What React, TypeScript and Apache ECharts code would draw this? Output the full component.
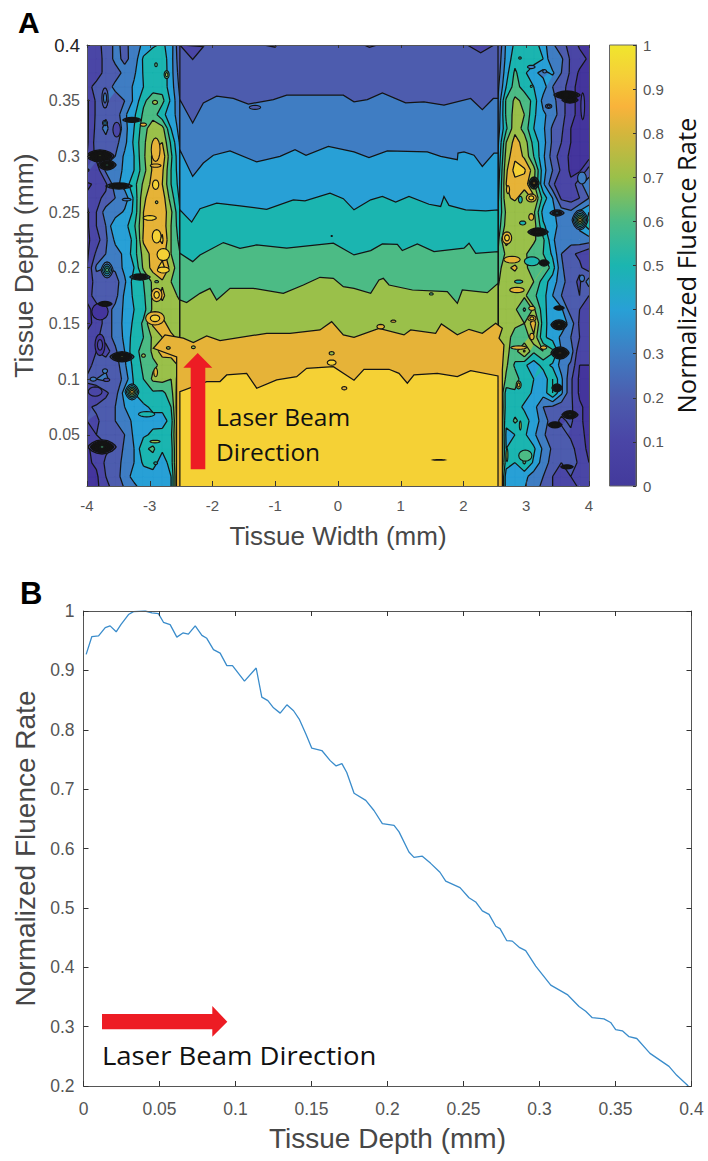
import React, { useEffect, useRef } from "react";
import * as echarts from "echarts";

// Panel B: fluence rate against depth
const lineDepth = [0.00175,0.0055,0.0099,0.0143,0.0175,0.0215,0.0246,0.0296,0.0329,0.0406,0.045,0.0493,0.0526,0.057,0.0614,0.0654,0.069,0.0735,0.0779,0.0811,0.0855,0.0899,0.0943,0.098,0.1059,0.1136,0.1173,0.1213,0.125,0.1294,0.1338,0.1382,0.1419,0.1463,0.1502,0.1568,0.1623,0.1662,0.17,0.1732,0.178,0.1857,0.1911,0.1966,0.2043,0.2076,0.2141,0.2174,0.2229,0.2284,0.2345,0.2383,0.2477,0.2536,0.258,0.2624,0.2668,0.2712,0.274,0.2784,0.2821,0.287,0.2909,0.2975,0.3074,0.3183,0.326,0.3304,0.3347,0.3424,0.3468,0.3501,0.3545,0.3589,0.364,0.3727,0.3852,0.3903,0.3979];
const lineFluence = [0.927,0.957,0.958,0.972,0.975,0.965,0.977,0.994,0.999,1.0,0.997,0.9955,0.981,0.977,0.956,0.963,0.961,0.975,0.959,0.954,0.935,0.929,0.908,0.908,0.882,0.904,0.855,0.849,0.837,0.828,0.842,0.832,0.818,0.793,0.769,0.765,0.748,0.739,0.743,0.728,0.693,0.681,0.664,0.642,0.639,0.628,0.594,0.585,0.587,0.575,0.56,0.545,0.534,0.517,0.51,0.495,0.489,0.469,0.465,0.445,0.444,0.433,0.428,0.402,0.37,0.354,0.334,0.326,0.315,0.313,0.307,0.295,0.293,0.283,0.28,0.255,0.233,0.218,0.2];

// Panel A: contour band colours, one per 0.1 step of fluence
const bandColors = ["#44359d","#4a46a6","#4d5cae","#3f7dc3","#28a0d6","#1bb5b0","#4cbb85","#9ac04a","#e6b338","#f5d135"];
const colorbarStops = [[0,"#433a9c"],[0.1,"#4a45a6"],[0.2,"#4c5cae"],[0.3,"#3f7dc3"],[0.4,"#28a0d6"],[0.5,"#1bb5b0"],[0.6,"#4cbb85"],[0.7,"#9ac04a"],[0.8,"#d4b63c"],[0.86,"#f9b33b"],[0.93,"#f5cf38"],[1,"#f0e62d"]];
const contourLevels = [0.1,0.2,0.3,0.4,0.5,0.6,0.7,0.8,0.9];

// Sampled field at both edges of the beam
const depthRows = [0.4,0.3875,0.375,0.3625,0.35,0.3375,0.325,0.3125,0.3,0.2875,0.275,0.2625,0.25,0.2375,0.225,0.2125,0.2,0.1875,0.175,0.1625,0.15,0.1375,0.125,0.1125,0.1,0.0875,0.075,0.0625,0.05,0.0375,0.025,0.0125,0];
const leftColumns = [-4,-3.85,-3.7,-3.55,-3.4,-3.25,-3.1,-2.95,-2.8,-2.66,-2.52];
const rightColumns = [2.55,2.68,2.82,2.97,3.12,3.27,3.42,3.56,3.71,3.85,4];
const leftField = [
[.15,.18,.22,.33,.27,.35,.42,.48,.52,.45,.2],
[.17,.17,.22,.33,.28,.33,.52,.58,.56,.44,.225],
[.12,.17,.22,.25,.33,.38,.51,.58,.57,.44,.25],
[.18,.22,.24,.33,.32,.42,.5,.56,.56,.45,.275],
[.08,.22,.32,.24,.3,.42,.58,.65,.63,.48,.302],
[.08,.22,.28,.23,.38,.48,.62,.66,.52,.46,.33],
[.08,.23,.34,.18,.36,.5,.66,.76,.74,.5,.358],
[.08,.25,.25,.26,.37,.52,.68,.78,.8,.58,.386],
[.1,.23,.27,.3,.42,.5,.68,.82,.87,.62,.411],
[.22,.14,.32,.35,.42,.5,.66,.82,.82,.6,.434],
[.08,.12,.18,.36,.45,.56,.72,.84,.8,.6,.457],
[.12,.18,.22,.3,.33,.52,.78,.86,.86,.65,.48],
[.08,.2,.35,.33,.42,.52,.8,.85,.87,.72,.505],
[.08,.2,.3,.5,.46,.58,.8,.86,.87,.7,.537],
[.08,.15,.28,.42,.45,.52,.82,.85,.92,.7,.57],
[.08,.22,.3,.36,.42,.55,.74,.84,.85,.7,.602],
[.1,.32,.3,.32,.43,.5,.72,.84,.95,.75,.63],
[.12,.25,.22,.25,.38,.55,.6,.72,.78,.7,.66],
[.12,.28,.22,.26,.42,.52,.58,.72,.83,.72,.69],
[.08,.13,.25,.33,.42,.5,.56,.72,.75,.72,.717],
[.08,.12,.25,.33,.43,.52,.62,.82,.84,.74,.74],
[.12,.18,.25,.33,.42,.55,.6,.72,.8,.83,.766],
[.12,.2,.14,.28,.4,.58,.62,.72,.86,.87,.79],
[.15,.25,.28,.24,.38,.54,.62,.68,.72,.72,.83],
[.22,.3,.32,.24,.33,.52,.6,.72,.74,.7,.865],
[.15,.08,.18,.25,.45,.5,.56,.58,.57,.66,.904],
[.18,.22,.24,.3,.4,.44,.48,.52,.54,.6,.95],
[.2,.18,.25,.3,.32,.44,.48,.47,.44,.55,.95],
[.15,.2,.24,.24,.3,.42,.48,.52,.55,.58,.95],
[.08,.15,.18,.22,.32,.4,.58,.62,.52,.55,.95],
[.08,.12,.22,.24,.34,.4,.52,.55,.44,.55,.95],
[.08,.08,.2,.24,.36,.43,.44,.45,.44,.5,.95],
[.08,.08,.15,.24,.3,.36,.42,.42,.44,.5,.95],
];
const rightField = [
[.2,.42,.52,.56,.56,.44,.32,.22,.18,.08,.08],
[.23,.43,.56,.58,.56,.5,.3,.32,.18,.15,.08],
[.25,.46,.62,.52,.42,.37,.42,.3,.18,.08,.08],
[.28,.5,.65,.55,.5,.45,.3,.27,.12,.08,.08],
[.304,.62,.72,.68,.56,.36,.33,.25,.12,.08,.08],
[.33,.62,.74,.7,.52,.42,.35,.25,.12,.08,.08],
[.355,.58,.77,.66,.5,.42,.28,.22,.1,.06,.06],
[.38,.7,.84,.76,.56,.44,.28,.2,.1,.06,.06],
[.406,.74,.88,.78,.6,.42,.25,.15,.08,.06,.06],
[.43,.78,.94,.92,.74,.44,.3,.18,.08,.08,.25],
[.455,.8,.86,.84,.72,.42,.22,.12,.12,.28,.35],
[.48,.78,.82,.74,.82,.56,.4,.18,.15,.2,.3],
[.505,.72,.72,.76,.72,.46,.42,.35,.32,.42,.5],
[.54,.74,.74,.72,.75,.52,.42,.38,.3,.42,.55],
[.57,.86,.76,.7,.72,.62,.42,.32,.35,.36,.35],
[.605,.72,.72,.72,.64,.6,.48,.3,.22,.18,.12],
[.65,.78,.82,.74,.62,.7,.55,.32,.22,.22,.14],
[.69,.76,.74,.74,.7,.55,.45,.34,.24,.18,.36],
[.71,.74,.74,.72,.62,.54,.4,.3,.22,.2,.2],
[.725,.72,.72,.58,.72,.55,.4,.42,.24,.2,.12],
[.75,.74,.72,.7,.86,.55,.42,.46,.36,.18,.1],
[.77,.74,.66,.62,.78,.52,.46,.38,.3,.2,.1],
[.785,.72,.66,.82,.62,.7,.62,.4,.36,.12,.1],
[.83,.72,.58,.52,.44,.54,.48,.36,.28,.1,.1],
[.865,.68,.66,.52,.5,.42,.6,.42,.22,.08,.08],
[.92,.55,.58,.55,.48,.44,.6,.42,.22,.08,.08],
[.95,.55,.55,.48,.44,.3,.28,.24,.22,.12,.06],
[.95,.52,.62,.55,.45,.36,.24,.18,.22,.12,.06],
[.95,.48,.5,.52,.42,.32,.22,.24,.18,.12,.08],
[.95,.5,.52,.58,.52,.38,.28,.22,.24,.14,.08],
[.95,.55,.5,.62,.48,.35,.26,.2,.3,.16,.1],
[.95,.44,.42,.43,.35,.3,.2,.17,.2,.18,.12],
[.95,.44,.42,.4,.33,.27,.2,.16,.18,.2,.17],
];

// Contours read across the beam, as [width mm, depth mm]
const contour30 = [[-2.52,.351],[-2.316,.33],[-2.146,.348],[-1.934,.354],[-1.668,.352],[-1.429,.347],[-1.03,.351],[-.818,.355],[.085,.355],[.255,.349],[.467,.351],[.707,.357],[1.078,.348],[1.37,.349],[1.689,.346],[2.114,.352],[2.3,.342],[2.475,.352],[2.55,.352]];
const contour40 = [[-2.52,.306],[-2.316,.282],[-2.146,.294],[-1.987,.301],[-1.721,.305],[-1.296,.295],[-.924,.3],[-.685,.306],[-.51,.301],[-.154,.309],[.255,.304],[.494,.299],[.786,.305],[1.424,.304],[1.636,.3],[1.902,.297],[1.912,.303],[2.008,.304],[2.167,.301],[2.3,.291],[2.486,.303],[2.55,.303]];
const contour50 = [[-2.52,.252],[-2.332,.241],[-2.199,.253],[-1.934,.258],[-1.562,.2555],[-1.137,.2525],[-.712,.261],[-.526,.26],[-.127,.267],[.085,.262],[.255,.252],[.521,.261],[.707,.264],[.919,.259],[1.131,.264],[1.45,.257],[1.636,.255],[1.689,.264],[1.769,.256],[2.035,.252],[2.353,.251],[2.55,.252]];
const contour60 = [[-2.52,.213],[-2.316,.2055],[-2.199,.2115],[-1.827,.2226],[-1.562,.2175],[-1.296,.2205],[-.818,.2175],[-.074,.222],[.255,.2115],[.521,.2154],[.707,.2214],[.946,.221],[1.025,.2154],[1.264,.2214],[1.53,.2145],[2.008,.2175],[2.088,.222],[2.194,.213],[2.55,.2145]];
const contour70 = [[-2.52,.171],[-2.412,.1687],[-2.199,.177],[-2.04,.1815],[-1.934,.171],[-1.721,.1815],[-1.349,.1815],[-.871,.177],[-.552,.1845],[-.287,.1914],[-.074,.1905],[.085,.183],[.255,.1815],[.521,.177],[.653,.189],[.722,.1905],[.813,.1845],[1.185,.18],[1.742,.1785],[1.902,.168],[1.981,.18],[2.38,.1776],[2.55,.186]];
const contour80 = [[-2.575,0],[-2.571,.12],[-2.943,.1277],[-2.757,.1397],[-2.465,.1367],[-2.305,.1328],[-2.093,.1388],[-1.88,.1346],[-1.137,.1411],[-.765,.1411],[-.287,.1441],[-.101,.1516],[.085,.1397],[.255,.1375],[.653,.1456],[1.052,.1397],[1.158,.1441],[1.556,.1411],[1.647,.1495],[1.902,.1397],[2.088,.1447],[2.3,.1411],[2.513,.1501],[2.619,.1456],[2.566,.1367],[2.645,.1307],[2.619,.1082],[2.62,0]];
const contour90 = [[-2.52,0],[-2.52,.0888],[-2.093,.0978],[-1.88,.0978],[-1.774,.1037],[-1.456,.1052],[-1.296,.0918],[-.977,.0993],[-.659,.1022],[-.5,.1097],[-.074,.1112],[.255,.099],[.414,.1088],[.813,.1088],[.972,.1052],[1.105,.0963],[1.211,.1037],[1.583,.1052],[1.902,.1022],[2.114,.1076],[2.55,.1028],[2.55,0]];
const topNotches = [
  [[-2.52,.4],[-2.316,.387],[-2.146,.3985]],
  [[-1.19,.4],[-1.0,.398],[-.98,.4]],
  [[.415,.4],[.5,.398],[.63,.4]],
  [[2.06,.4],[2.274,.393],[2.486,.4]],
];
const beamBase = [[-2.52,.4],[2.55,.4],[2.55,0],[-2.52,0]];

// Closed local contours: [width, depth, half width, half depth, outer band, inner band]
const localContours = [
  // broad islands at the edges
  [-3.713,.3524,.05,.009,2,3],[-3.527,.324,.06,.0066,1,1],[-3.793,.1307,.08,.0096,0,1],[-3.793,.1606,.13,.0075,0,0],[-3.87,.0888,.11,.0042,1,1],
  [3.9,.345,.03,.012,1,1],[3.888,.2806,.07,.0054,3,3],[3.888,.1905,.04,.003,3,3],
  [-2.906,.306,.07,.0105,8,8],[-2.89,.1756,.085,.006,8,9],[-2.916,.1546,.15,.006,8,9],[-2.784,.198,.095,.0027,9,9],
  [-2.89,.2282,.07,.006,9,9],[-2.784,.2118,.1,.0054,9,9],[-2.906,.2746,.05,.0042,9,9],[-3,.2447,.105,.0021,9,9],
  [-2.906,.2917,.085,.0015,8,8],[-3.102,.3285,.05,.0015,8,8],[-2.916,.3485,.04,.0018,7,7],[-2.731,.3734,.04,.0036,6,7],[-2.9,.3823,.02,.0018,6,6],
  [-2.89,.2588,.02,.0012,7,7],[-3.368,.2612,.07,.0012,3,3],[-3.713,.33,.04,.0024,3,4],[-2.89,.1875,.03,.001,6,6],[-2.906,.1061,.03,.004,8,8],
  [-3.1,.1211,.03,.0015,7,7],[-3.713,.1073,.04,.002,3,3],[-3.687,.0993,.05,.0015,1,1],[-3.9,.1,.05,.0018,3,3],[-3.05,.0685,.13,.0024,5,5],
  [-2.916,.0439,.08,.0012,7,7],[-2.906,.0245,.03,.0012,5,5],
  [3.08,.3803,.06,.0015,3,3],[3.293,.3764,.03,.0015,3,3],[3.357,.345,.05,.002,2,3],[2.9,.3883,.02,.001,6,6],[3.08,.3629,.015,.001,6,6],
  [2.709,.2702,.025,.0036,8,8],[2.906,.2612,.03,.003,5,5],[3.08,.2627,.08,.0036,8,9],[3.08,.2456,.04,.003,8,8],[2.943,.2402,.05,.0018,5,5],
  [2.693,.2268,.075,.0054,8,9],[2.773,.2073,.13,.003,8,8],[3.09,.2058,.12,.004,5,5],[2.852,.18,.115,.0024,8,8],[2.879,.1875,.065,.0015,5,5],
  [3.09,.1636,.05,.0018,8,8],[3.09,.1546,.065,.0027,8,9],[3.09,.1382,.035,.003,8,8],[2.879,.1283,.125,.0015,8,8],[3.277,.1283,.05,.0015,8,8],
  [2.879,.0948,.04,.0036,7,8],[2.905,.0583,.015,.004,7,7],[2.985,.0313,.105,.005,6,6],[2.693,.0319,.015,.006,7,7],
  // tight spikes
  [-3.793,.3004,.223,.0054,1,7],[-3.681,.2923,.143,.0045,2,6],[-3.283,.3327,.143,.0022,3,6],[-3.49,.2734,.207,.0027,3,6],
  [-3.155,.1917,.16,.0027,4,7],[-3.713,.1675,.11,.0022,1,5],[-3.442,.12,.19,.0045,2,7],[-3.283,.0885,.11,.0072,4,8],
  [-3.76,.0391,.223,.0063,1,6],[-3.68,.198,.096,.0072,3,6],
  [3.649,.3551,.207,.0036,1,6],[3.697,.3506,.127,.0027,1,5],[3.124,.2761,.08,.0054,5,8],[3.857,.2429,.127,.009,3,8],
  [3.49,.2492,.11,.0027,2,4],[3.187,.2321,.16,.0036,4,9],[3.283,.2043,.08,.0027,5,8],[3.522,.1639,.08,.0018,3,6],
  [3.522,.1487,.127,.0045,3,7],[3.538,.1235,.143,.0054,3,8],[3.49,.0921,.08,.0036,4,8],[3.697,.0679,.127,.0036,1,5],
  [3.458,.0589,.11,.0027,1,5],[3.649,.0212,.096,.0018,2,5],
  // small islands across the beam
  [-1.323,.344,.09,.0018,2,2],[-2.704,.128,.03,.0012,7,7],[-2.305,.1286,.03,.0012,7,7],[-.101,.1232,.04,.0015,7,7],
  [-.101,.1148,.07,.0024,9,9],[.1,.0918,.04,.0015,8,8],[.68,.1471,.06,.002,8,8],[.882,.152,.04,.001,8,8],
  [1.487,.1765,.03,.001,6,6],[1.61,.0274,.1,.0003,8,8],[-.1,.2285,.01,.0004,6,6],
];

const depthTicks = [0.05,0.1,0.15,0.2,0.25,0.3,0.35,0.4];

const AXIS = "#555555";
const TEXT = "#555555";
const TITLE = "#474747";
const SANS = "Liberation Sans";
const HUMAN = "Open Sans";
const INK = "#141414";

type P = number[];
const fields = [
  { cols: leftColumns, z: leftField },
  { cols: rightColumns, z: rightField },
];

function clip(poly: P[], level: number, keepAbove: boolean): P[] {
  const out: P[] = [];
  for (let i = 0; i < poly.length; i++) {
    const a = poly[i];
    const b = poly[(i + 1) % poly.length];
    const ain = keepAbove ? a[2] >= level : a[2] <= level;
    const bin = keepAbove ? b[2] >= level : b[2] <= level;
    if (ain) out.push(a);
    if (ain !== bin) {
      const t = (level - a[2]) / (b[2] - a[2]);
      out.push([a[0] + t * (b[0] - a[0]), a[1] + t * (b[1] - a[1]), level]);
    }
  }
  return out;
}

function cellsOf(f: { cols: number[]; z: number[][] }, visit: (q: P[]) => void) {
  for (let r = 0; r < depthRows.length - 1; r++) {
    for (let c = 0; c < f.cols.length - 1; c++) {
      visit([
        [f.cols[c], depthRows[r], f.z[r][c]],
        [f.cols[c + 1], depthRows[r], f.z[r][c + 1]],
        [f.cols[c + 1], depthRows[r + 1], f.z[r + 1][c + 1]],
        [f.cols[c], depthRows[r + 1], f.z[r + 1][c]],
      ]);
    }
  }
}

function polyPath(pts: P[], api: any, close = true) {
  let d = "";
  pts.forEach((p, i) => {
    const s = api.coord([p[0], p[1]]);
    d += (i ? "L" : "M") + s[0].toFixed(2) + " " + s[1].toFixed(2);
  });
  return d + (close ? "Z" : "");
}

function renderBand(params: any, api: any) {
  const band = params.dataIndex;
  let d = "";
  for (const f of fields) {
    cellsOf(f, (q) => {
      let poly = q;
      if (band > 0) poly = clip(poly, band / 10, true);
      if (poly.length >= 3 && band < 9) poly = clip(poly, (band + 1) / 10, false);
      if (poly.length >= 3) d += polyPath(poly, api);
    });
  }
  return { type: "path", shape: { pathData: d }, style: { fill: bandColors[band], stroke: bandColors[band], lineWidth: 0.3 } };
}

function renderContourLine(params: any, api: any) {
  const level = contourLevels[params.dataIndex];
  let d = "";
  for (const f of fields) {
    cellsOf(f, (q) => {
      const hits: P[] = [];
      for (let i = 0; i < 4; i++) {
        const a = q[i];
        const b = q[(i + 1) % 4];
        if ((a[2] >= level) !== (b[2] >= level)) {
          const t = (level - a[2]) / (b[2] - a[2]);
          hits.push([a[0] + t * (b[0] - a[0]), a[1] + t * (b[1] - a[1])]);
        }
      }
      for (let i = 0; i + 1 < hits.length; i += 2) d += polyPath([hits[i], hits[i + 1]], api, false);
    });
  }
  return { type: "path", shape: { pathData: d }, style: { fill: "none", stroke: INK, lineWidth: 1.25 } };
}

const beamContours = [
  { band: 2, pts: beamBase },
  ...topNotches.map((pts) => ({ band: 1, pts })),
  { band: 3, pts: [[-2.52, 0], ...contour30, [2.55, 0]] },
  { band: 4, pts: [[-2.52, 0], ...contour40, [2.55, 0]] },
  { band: 5, pts: [[-2.52, 0], ...contour50, [2.55, 0]] },
  { band: 6, pts: [[-2.52, 0], ...contour60, [2.55, 0]] },
  { band: 7, pts: [[-2.52, 0], ...contour70, [2.55, 0]] },
  { band: 8, pts: contour80 },
  { band: 9, pts: contour90 },
];

function renderBeam(params: any, api: any) {
  const c = beamContours[params.dataIndex];
  return { type: "path", shape: { pathData: polyPath(c.pts, api) }, style: { fill: bandColors[c.band], stroke: INK, lineWidth: 1.25 } };
}

function renderLocal(params: any, api: any) {
  const [x, y, rx, ry, from, to] = localContours[params.dataIndex];
  const children: any[] = [];
  const n = to - from + 1;
  const tight = n > 2 && ry < 0.0065;
  for (let b = 0; b < n; b++) {
    const k = 1 - b / n;
    const pts: P[] = [];
    for (let a = 0; a < 16; a++) {
      const th = (a / 16) * Math.PI * 2;
      const s = Math.sin(th);
      const lens = n > 2 ? s * Math.sqrt(Math.abs(s)) : s;
      pts.push(api.coord([x + rx * k * Math.cos(th), y + ry * k * lens]));
    }
    children.push({ type: "polygon", shape: { points: pts }, style: { fill: tight && b >= 1 && b < n - 1 ? INK : bandColors[from + b], stroke: INK, lineWidth: tight ? 1.4 : 1.1 } });
  }
  return { type: "group", children };
}

function renderColorbar(_: any, api: any) {
  const a = api.coord([0, 1]);
  const b = api.coord([1, 0]);
  return {
    type: "rect",
    shape: { x: a[0], y: a[1], width: b[0] - a[0], height: b[1] - a[1] },
    style: {
      stroke: "#666666",
      lineWidth: 1,
      fill: new echarts.graphic.LinearGradient(0, 1, 0, 0, colorbarStops.map(([offset, color]) => ({ offset: offset as number, color: color as string }))),
    },
  };
}

const idx = (n: number) => Array.from({ length: n }, (_, i) => [i, i]);
const customBase = { type: "custom", silent: true, clip: true, xAxisIndex: 0, yAxisIndex: 0 };

export default function App() {
  const ref = useRef<HTMLDivElement>(null);
  useEffect(() => {
    const chart = echarts.init(ref.current!, null, { renderer: "svg" });
    const line = { onZero: false, lineStyle: { color: AXIS, width: 1 } };
    const lblA = { color: TEXT, fontFamily: SANS, fontSize: 15 };
    const lblB = { color: TEXT, fontFamily: SANS, fontSize: 17.5 };
    const tick = { inside: true, length: 5, lineStyle: { color: "#333", width: 1 } };
    chart.setOption({
      animation: false,
      backgroundColor: "#ffffff",
      grid: [
        { left: 87, top: 45, width: 502, height: 441 },
        { left: 609.5, top: 45, width: 26.5, height: 441 },
        { left: 83.5, top: 611, width: 608, height: 475 },
      ],
      xAxis: [
        {
          gridIndex: 0, type: "value", min: -4, max: 4, interval: 1, z: 10,
          axisLine: line, axisTick: tick, splitLine: { show: false },
          axisLabel: { ...lblA, margin: 12 },
          name: "Tissue Width (mm)", nameLocation: "middle", nameGap: 37,
          nameTextStyle: { color: TITLE, fontFamily: SANS, fontSize: 26 },
        },
        { gridIndex: 1, type: "value", min: 0, max: 1, show: false },
        {
          gridIndex: 2, type: "value", min: 0, max: 0.4, interval: 0.05, z: 10,
          axisLine: line, axisTick: tick, splitLine: { show: false },
          axisLabel: { ...lblB, margin: 14 },
          name: "Tissue Depth (mm)", nameLocation: "middle", nameGap: 38,
          nameTextStyle: { color: TITLE, fontFamily: SANS, fontSize: 28 },
        },
        { gridIndex: 2, type: "value", position: "top", min: 0, max: 0.4, interval: 0.05, z: 10, axisLine: line, axisTick: tick, axisLabel: { show: false }, splitLine: { show: false } },
        { gridIndex: 0, type: "value", position: "top", min: -4, max: 4, interval: 1, z: 10, axisLine: line, axisTick: { ...tick, length: 3 }, axisLabel: { show: false }, splitLine: { show: false } },
      ],
      yAxis: [
        {
          gridIndex: 0, type: "value", min: 0.004, max: 0.4, z: 10,
          axisLine: line, splitLine: { show: false },
          axisTick: { ...tick, length: 3, customValues: depthTicks },
          axisLabel: {
            ...lblA, fontSize: 16, margin: 7, customValues: depthTicks,
            formatter: (v: number) => (Math.abs(v - 0.4) < 1e-6 ? "{top|0.4}" : String(v)),
            rich: { top: { fontSize: 18.5, color: "#222222", fontFamily: SANS } },
          },
          name: "Tissue Depth (mm)", nameLocation: "middle", nameGap: 46,
          nameTextStyle: { color: TITLE, fontFamily: SANS, fontSize: 26.5 },
        },
        {
          gridIndex: 1, type: "value", position: "right", min: 0, max: 1, interval: 0.1, z: 10,
          axisLine: line, splitLine: { show: false },
          axisTick: { inside: true, length: 3, lineStyle: { color: "#333", width: 1 } },
          axisLabel: { ...lblA, margin: 7 },
          name: "Normalized Fluence Rate", nameLocation: "middle", nameGap: 37, nameRotate: 90,
          nameTextStyle: { color: "#111111", fontFamily: HUMAN, fontSize: 25.5 },
        },
        {
          gridIndex: 2, type: "value", min: 0.2, max: 1, interval: 0.1, z: 10,
          axisLine: line, axisTick: tick, splitLine: { show: false },
          axisLabel: { ...lblB, margin: 9 },
          name: "Normalized Fluence Rate", nameLocation: "middle", nameGap: 43,
          nameTextStyle: { color: TITLE, fontFamily: SANS, fontSize: 28 },
        },
        { gridIndex: 2, type: "value", position: "right", min: 0.2, max: 1, interval: 0.1, z: 10, axisLine: line, axisTick: tick, axisLabel: { show: false }, splitLine: { show: false } },
        { gridIndex: 0, type: "value", position: "right", min: 0.004, max: 0.4, z: 10, axisLine: line, axisTick: { show: false }, axisLabel: { show: false }, splitLine: { show: false } },
      ],
      series: [
        { ...customBase, name: "bands", data: idx(bandColors.length), renderItem: renderBand },
        { ...customBase, name: "contours", data: idx(contourLevels.length), renderItem: renderContourLine },
        { ...customBase, name: "beam", data: idx(beamContours.length), renderItem: renderBeam },
        { ...customBase, name: "local", data: idx(localContours.length), renderItem: renderLocal },
        { type: "custom", silent: true, xAxisIndex: 1, yAxisIndex: 1, data: [[0, 0]], renderItem: renderColorbar },
        {
          type: "line", xAxisIndex: 2, yAxisIndex: 2, showSymbol: false, smooth: false,
          data: lineDepth.map((d, i) => [d, lineFluence[i]]),
          lineStyle: { color: "#3a8ccb", width: 1.3 },
        },
      ],
      graphic: [
        { type: "text", x: 18, y: 7, z: 100, style: { text: "A", fill: "#000", font: `bold 30px "${SANS}"` } },
        { type: "text", x: 20, y: 578, z: 100, style: { text: "B", fill: "#000", font: `bold 31px "${SANS}"` } },
        { type: "polygon", z: 100, shape: { points: [[197.7, 353], [212.3, 367.7], [205.3, 367.7], [205.3, 469.3], [190.7, 469.3], [190.7, 367.7], [183.3, 367.7]] }, style: { fill: "#ed1c24" } },
        { type: "text", x: 216, y: 404, z: 100, style: { text: "Laser Beam", fill: "#111", font: `24.5px "${HUMAN}"` } },
        { type: "text", x: 216, y: 439, z: 100, style: { text: "Direction", fill: "#111", font: `24.5px "${HUMAN}"` } },
        { type: "polygon", z: 100, shape: { points: [[102, 1014], [212.3, 1014], [212.3, 1006], [227.3, 1021.7], [212.3, 1036.7], [212.3, 1029.3], [102, 1029.3]] }, style: { fill: "#ed1c24" } },
        { type: "text", x: 102, y: 1043, z: 100, scaleX: 1.1, style: { text: "Laser Beam Direction", fill: "#111", font: `25px "${HUMAN}"` } },
      ],
    });
    return () => chart.dispose();
  }, []);
  return <div ref={ref} style={{ position: "absolute", left: 0, top: 0, width: 708, height: 1161 }} />;
}
